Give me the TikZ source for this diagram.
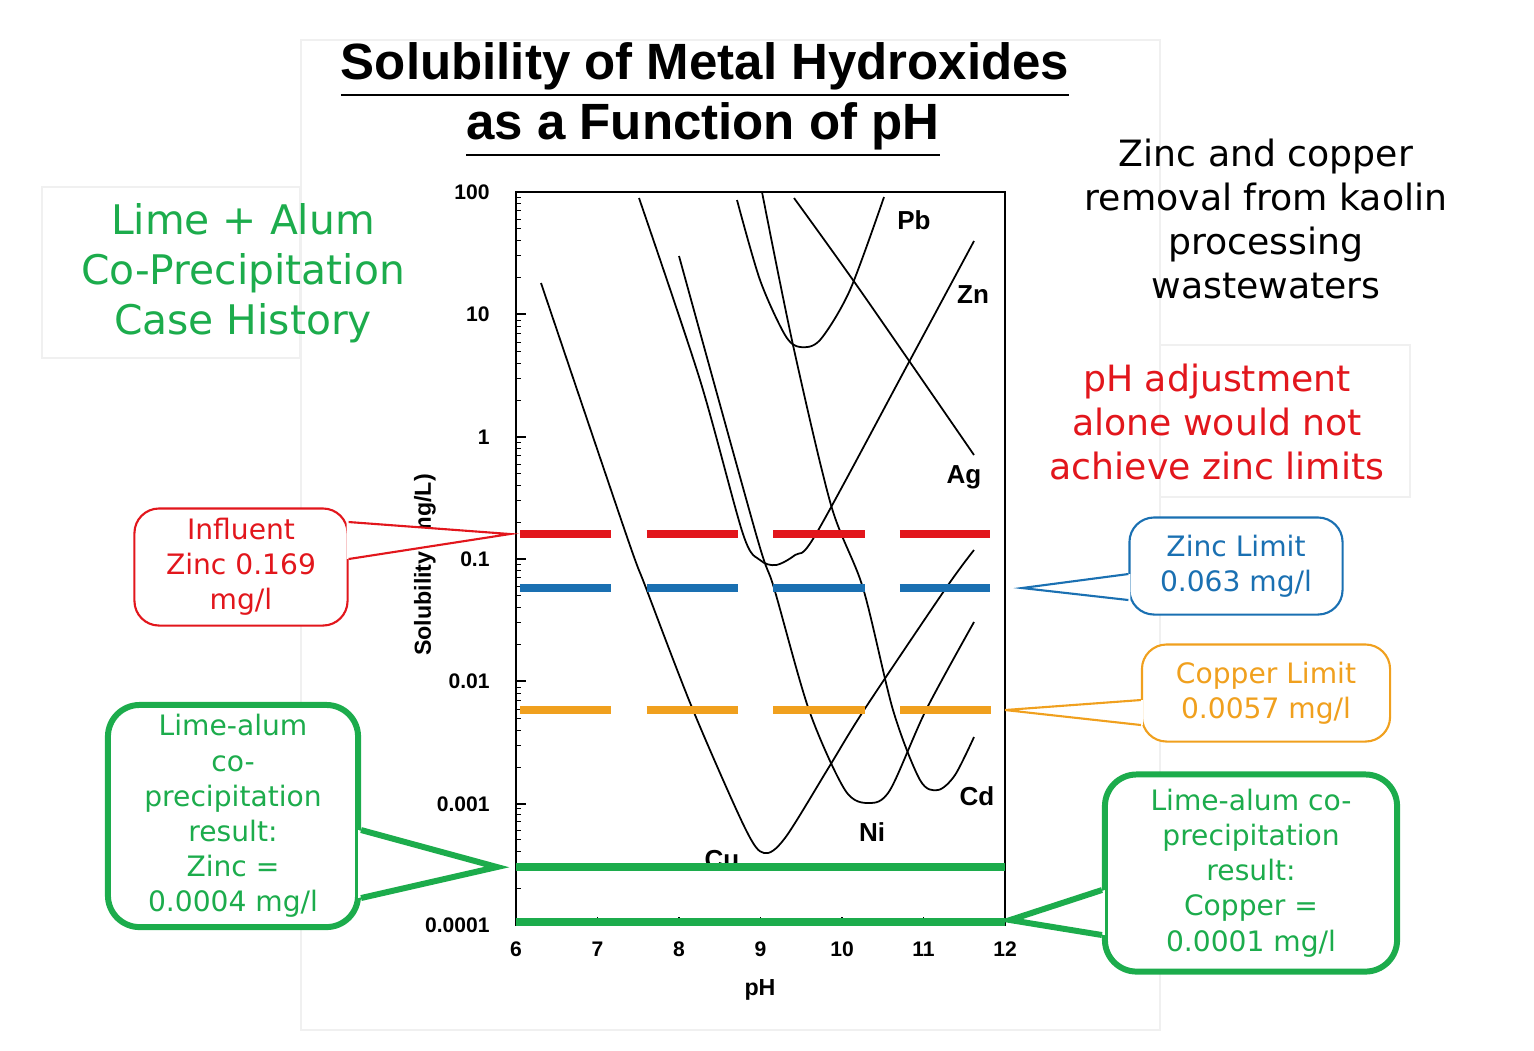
\documentclass[tikz,border=0pt]{standalone}
\usepackage{fontspec}
\setmainfont{DejaVu Sans}
\newfontfamily\arialf{Liberation Sans}
\usetikzlibrary{calc}
\definecolor{myred}{RGB}{226,22,28}
\definecolor{myblue}{RGB}{26,112,178}
\definecolor{myorange}{RGB}{240,160,30}
\definecolor{mygreen}{RGB}{28,172,76}
\tikzset{
  callout/.style={draw, rounded corners=7pt, fill=white, align=center, font=\fontsize{8}{10}\selectfont, inner sep=0pt},
  limit/.style={line width=2.2pt, dash pattern=on 26pt off 10pt},
  curve/.style={line width=0.5pt, smooth},
  elem/.style={font=\arialf\bfseries\fontsize{7.4}{8}\selectfont},
  ax/.style={font=\arialf\bfseries\fontsize{6}{7}\selectfont}
}
\begin{document}
\begin{tikzpicture}[x=0.01cm,y=-0.01cm]
\useasboundingbox (0,0) rectangle (1534,1050);
% faint panels
\draw[black!6] (301,40) rectangle (1160,1030);
\draw[black!6] (42,187) rectangle (300,358);
\draw[black!6] (1160,345) rectangle (1410,497);
% title
\node (t1) at (705,70) {\arialf\bfseries\fontsize{14.5}{16}\selectfont\underline{Solubility of Metal Hydroxides}};
\node (t2) at (703,130) {\arialf\bfseries\fontsize{14.5}{16}\selectfont\underline{as a Function of pH}};
% side texts
\node[align=center, text=mygreen, font=\fontsize{11.6}{14.2}\selectfont] (case) at (243,273) {Lime + Alum\\Co-Precipitation\\Case History};
\node[align=center, font=\fontsize{10.3}{12.5}\selectfont] (kaolin) at (1266,219) {Zinc and copper\\removal from kaolin\\processing\\wastewaters};
\node[align=center, text=myred, font=\fontsize{10.3}{12.5}\selectfont] (adj) at (1217,422) {pH adjustment\\alone would not\\achieve zinc limits};
% axes
\draw[line width=0.7pt] (516,192) rectangle (1005,925);
\foreach \yb/\lab in {192/100,314/10,437/1,559/0.1,681/0.01,804/0.001,925/0.0001}{
  \draw (516,\yb) -- (526,\yb);
  \node[ax, anchor=east] at (502,\yb) {\lab};
}
\foreach \yb in {314,437,559,681,804,925}
  \foreach \m in {2,...,9}{
    \pgfmathsetmacro\yy{\yb-122*log10(\m)}
    \draw[line width=0.3pt] (516,\yy) -- (521,\yy);
  }
\foreach \p in {6,...,12}{
  \pgfmathsetmacro\xx{516+81.5*(\p-6)}
  \draw (\xx,925) -- (\xx,917);
  \node[ax] at (\xx,949) {\p};
}
\node[ax, font=\arialf\bfseries\fontsize{6.6}{7}\selectfont] (phlab) at (760,990) {pH};
\node[ax, rotate=90, font=\arialf\bfseries\fontsize{6.6}{7}\selectfont] (sollab) at (425,565) {Solubility (mg/L)};
% curves
\draw[curve] plot coordinates {(541,283) (626,534) (646,588) (693,710) (745,828) (764,853) (785,838) (829,767) (864,710) (946,588) (974,550)};
\draw[curve] plot coordinates {(639,198) (700,380) (743,534) (760,560) (776,565) (795,555) (816,534) (909,362) (974,241)};
\draw[curve] plot coordinates {(679,256) (756,534) (774,588) (809,710) (845,790) (869,803) (890,790) (926,710) (974,622)};
\draw[curve] plot coordinates {(737,200) (760,280) (785,335) (800,347) (820,340) (850,290) (884,197)};
\draw[curve] plot coordinates {(762,192) (793,345) (831,505) (863,588) (893,710) (920,780) (938,790) (955,775) (974,737)};
\draw[curve] plot coordinates {(794,198) (860,290) (974,455)};
\node[elem] (pb) at (914,220) {Pb};
\node[elem] (zn) at (973,295) {Zn};
\node[elem] (ag) at (964,477) {Ag};
\node[elem] (cd) at (977,796) {Cd};
\node[elem] (ni) at (872,832) {Ni};
\node[elem] (cu) at (722,860) {Cu};
% limit lines
\draw[limit, myred] (520,534) -- (990,534);
\draw[limit, myblue] (520,588) -- (990,588);
\draw[limit, myorange] (520,710) -- (1005,710);
\draw[line width=2.3pt, mygreen] (516,867) -- (1005,867);
\draw[line width=2.3pt, mygreen] (516,922) -- (1005,922);
% callouts
\node[callout, draw=myred, text=myred, line width=0.6pt, minimum width=2.13cm, minimum height=1.17cm] (infl) at (241,567) {Influent\\Zinc 0.169\\mg/l};
\coordinate (inflTip) at (510,534);
\fill[white] ($(infl.east)+(-2,-45)$) -- (inflTip) -- ($(infl.east)+(-2,-8)$) -- cycle;
\draw[myred, line width=0.6pt] ($(infl.east)+(0,-45)$) -- (inflTip) -- ($(infl.east)+(0,-8)$);

\node[callout, draw=myblue, text=myblue, line width=0.6pt, minimum width=2.13cm, minimum height=0.97cm] (zlim) at (1236,566) {Zinc Limit\\0.063 mg/l};
\coordinate (zlimTip) at (1022,588);
\fill[white] ($(zlim.west)+(2,8)$) -- (zlimTip) -- ($(zlim.west)+(2,34)$) -- cycle;
\draw[myblue, line width=0.6pt] ($(zlim.west)+(0,8)$) -- (zlimTip) -- ($(zlim.west)+(0,34)$);

\node[callout, draw=myorange, text=myorange, line width=0.6pt, minimum width=2.48cm, minimum height=0.97cm] (clim) at (1266,693) {Copper Limit\\0.0057 mg/l};
\coordinate (climTip) at (1005,710);
\fill[white] ($(clim.west)+(2,7)$) -- (climTip) -- ($(clim.west)+(2,32)$) -- cycle;
\draw[myorange, line width=0.6pt] ($(clim.west)+(0,7)$) -- (climTip) -- ($(clim.west)+(0,32)$);

\node[callout, draw=mygreen, text=mygreen, line width=1.7pt, rounded corners=9pt, minimum width=2.5cm, minimum height=2.22cm] (gzn) at (233,816) {Lime-alum\\co-\\precipitation\\result:\\Zinc =\\0.0004 mg/l};
\coordinate (gznTip) at (497,867);
\fill[white] ($(gzn.east)+(-3,14)$) -- (gznTip) -- ($(gzn.east)+(-3,82)$) -- cycle;
\draw[mygreen, line width=1.7pt, line join=miter] ($(gzn.east)+(0,14)$) -- (gznTip) -- ($(gzn.east)+(0,82)$);

\node[callout, draw=mygreen, text=mygreen, line width=1.7pt, rounded corners=9pt, minimum width=2.92cm, minimum height=1.97cm] (gcu) at (1251,873) {Lime-alum co-\\precipitation\\result:\\Copper =\\0.0001 mg/l};
\coordinate (gcuTip) at (1010,920);
\fill[white] ($(gcu.west)+(3,17)$) -- (gcuTip) -- ($(gcu.west)+(3,62)$) -- cycle;
\draw[mygreen, line width=1.7pt, line join=miter] ($(gcu.west)+(0,17)$) -- (gcuTip) -- ($(gcu.west)+(0,62)$);
\end{tikzpicture}
\end{document}
